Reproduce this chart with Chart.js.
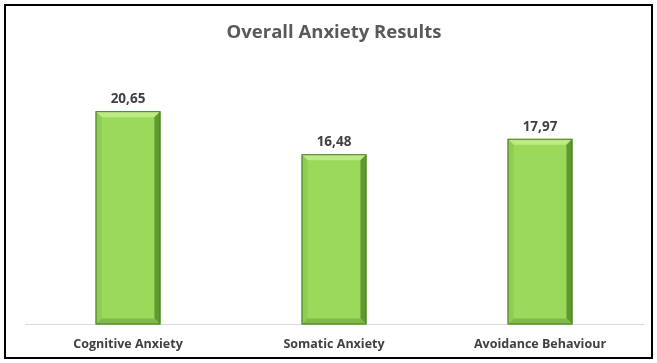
<!DOCTYPE html>
<html>
<head>
<meta charset="utf-8">
<script src="https://cdn.jsdelivr.net/npm/chart.js@4"></script>
<style>
  html, body { margin: 0; padding: 0; background: #fff; }
  .frame { position: absolute; left: 4px; top: 4px; width: 649px; height: 355px; border: 2px solid #000; box-sizing: border-box; }
  .frame canvas { display: block; }
</style>
</head>
<body>
<div class="frame"><canvas id="chart" width="645" height="351"></canvas></div>
<script>
const categories = ['Cognitive Anxiety', 'Somatic Anxiety', 'Avoidance Behaviour'];
const results = [20.65, 16.48, 17.97];
const yMax = 25;

const fmt = v => v.toFixed(2).replace('.', ',');

// bevelled bar look + value labels above each bar
const bevel = {
  id: 'bevel',
  afterDatasetsDraw(chart) {
    const ctx = chart.ctx;
    chart.getDatasetMeta(0).data.forEach((bar, i) => {
      const l = bar.x - bar.width / 2, r = bar.x + bar.width / 2;
      const t = bar.y, b = bar.base, d = 6;
      ctx.save();
      // top bevel
      ctx.fillStyle = '#bdea86';
      ctx.beginPath();
      ctx.moveTo(l, t); ctx.lineTo(r, t); ctx.lineTo(r - d, t + d); ctx.lineTo(l + d, t + d); ctx.closePath(); ctx.fill();
      // right bevel
      ctx.fillStyle = '#5f9a31';
      ctx.beginPath();
      ctx.moveTo(r, t); ctx.lineTo(r, b); ctx.lineTo(r - d, b - d); ctx.lineTo(r - d, t + d); ctx.closePath(); ctx.fill();
      // left bevel
      ctx.fillStyle = '#8fcc52';
      ctx.beginPath();
      ctx.moveTo(l, t); ctx.lineTo(l + d, t + d); ctx.lineTo(l + d, b - d); ctx.lineTo(l, b); ctx.closePath(); ctx.fill();
      // bottom bevel
      ctx.fillStyle = '#7fb948';
      ctx.beginPath();
      ctx.moveTo(l, b); ctx.lineTo(l + d, b - d); ctx.lineTo(r - d, b - d); ctx.lineTo(r, b); ctx.closePath(); ctx.fill();
      ctx.strokeStyle = '#4d7f27'; ctx.lineWidth = 1;
      ctx.strokeRect(l + 0.5, t + 0.5, bar.width - 1, b - t - 1);
      // value label
      ctx.fillStyle = '#404040';
      ctx.font = 'bold 13.5px "Open Sans", sans-serif';
      ctx.textAlign = 'center';
      ctx.textBaseline = 'bottom';
      ctx.fillText(fmt(results[i]), bar.x, t - 5);
      ctx.restore();
    });
  }
};

new Chart(document.getElementById('chart'), {
  type: 'bar',
  data: {
    labels: categories,
    datasets: [{ data: results, backgroundColor: '#9bd95b', borderWidth: 0, barPercentage: 1, categoryPercentage: 0.315 }]
  },
  options: {
    responsive: false, animation: false,
    layout: { padding: { left: 19, right: 8, bottom: -8 } },
    scales: {
      y: { display: false, min: 0, max: yMax },
      x: {
        grid: { display: false, drawTicks: false },
        border: { display: true, color: '#d9d9d9', width: 1 },
        ticks: { color: '#404040', font: { size: 12.5, weight: 'bold', family: '"Open Sans", sans-serif', lineHeight: 1 }, padding: 14 }
      }
    },
    plugins: {
      legend: { display: false },
      tooltip: { enabled: false },
      title: {
        display: true, text: 'Overall Anxiety Results', color: '#595959',
        font: { size: 18.5, weight: 'bold', family: '"Open Sans", sans-serif' },
        padding: { top: 16, bottom: 22 }
      }
    }
  },
  plugins: [bevel]
});
</script>
</body>
</html>
